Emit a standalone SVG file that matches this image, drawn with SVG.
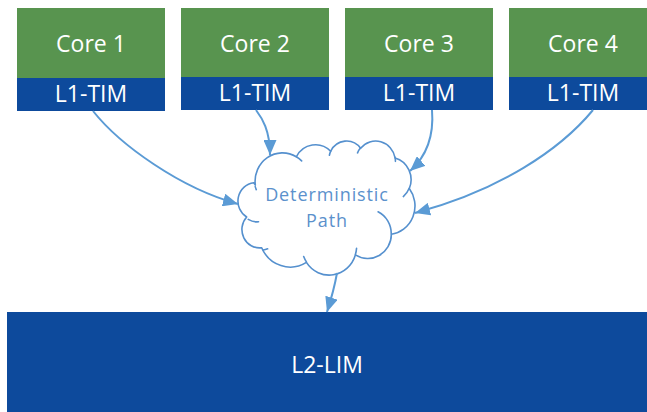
<svg xmlns="http://www.w3.org/2000/svg" width="647" height="412" viewBox="0 0 647 412">
  <style>
    .core { fill: #58944F; }
    .tim { fill: #0D4A9C; }
    .lbl { font-family: "Open Sans", "Noto Sans", sans-serif; font-size: 23px; fill: #FFFFFF; text-anchor: middle; }
    .cloud { fill: #FFFFFF; stroke: #5590CE; stroke-width: 1.6; stroke-linejoin: round; }
    .cloud-detail { fill: none; stroke: #5590CE; stroke-width: 1.6; stroke-linecap: round; }
    .cloud-text { font-family: "Open Sans", "Noto Sans", sans-serif; font-size: 18px; fill: #5B91CC; text-anchor: middle; letter-spacing: 0.9px; }
    .conn { fill: none; stroke: #5B9BD5; stroke-width: 2; marker-end: url(#arrow); }
  </style>
  <defs>
    <marker id="arrow" markerUnits="userSpaceOnUse" markerWidth="16" markerHeight="13" refX="15" refY="6.5" orient="auto">
      <path d="M0,0 L15,6.5 L0,13 z" fill="#5B9BD5"/>
    </marker>
  </defs>

  <!-- Cores with their local L1 memories -->
  <g id="core1">
    <rect class="core" x="17" y="8" width="148" height="70"/>
    <rect class="tim" x="17" y="78" width="148" height="33"/>
    <text class="lbl" x="91" y="52">Core 1</text>
    <text class="lbl" x="91" y="102">L1-TIM</text>
  </g>
  <g id="core2">
    <rect class="core" x="181" y="8" width="148" height="69"/>
    <rect class="tim" x="181" y="77" width="148" height="33"/>
    <text class="lbl" x="255" y="52">Core 2</text>
    <text class="lbl" x="255" y="101">L1-TIM</text>
  </g>
  <g id="core3">
    <rect class="core" x="345" y="8" width="148" height="69"/>
    <rect class="tim" x="345" y="77" width="148" height="33"/>
    <text class="lbl" x="419" y="52">Core 3</text>
    <text class="lbl" x="419" y="101">L1-TIM</text>
  </g>
  <g id="core4">
    <rect class="core" x="509" y="8" width="148" height="69"/>
    <rect class="tim" x="509" y="77" width="148" height="33"/>
    <text class="lbl" x="583" y="52">Core 4</text>
    <text class="lbl" x="583" y="101">L1-TIM</text>
  </g>

  <!-- Shared deterministic interconnect -->
  <g id="path-cloud">
    <path class="cloud" d="M255.33,185.17
      A27.42,28.51 0 0 1 296.36,156.74
      A21.65,22.54 0 0 1 330.68,151.25
      A17.72,18.44 0 0 1 360.64,148.31
      A19.72,20.46 0 0 1 395.09,157.91
      A21.65,22.56 0 0 1 409.30,188.57
      A27.51,28.60 0 0 1 391.38,234.29
      A23.49,24.40 0 0 1 355.45,254.80
      A27.41,28.58 0 0 1 306.42,262.40
      A31.34,32.70 0 0 1 261.68,247.75
      A17.70,18.36 0 0 1 246.69,216.97
      A17.64,18.44 0 0 1 253.80,182.71 Z"/>
    <path class="cloud-detail" d="M258.55,221.80 A17.64,18.44 0 0 1 248.27,219.33
      M267.63,248.85 A17.70,18.36 0 0 1 263.13,250.04
      M306.40,261.85 A27.41,28.58 0 0 1 303.69,256.46
      M356.54,248.39 A27.41,28.58 0 0 1 355.46,254.31
      M378.07,211.80 A23.49,24.40 0 0 1 391.27,233.94
      M409.21,188.23 A21.65,22.56 0 0 1 403.33,196.53
      M395.10,157.43 A19.72,20.46 0 0 1 395.41,161.35
      M357.56,152.86 A19.72,20.46 0 0 1 360.57,147.86
      M329.40,155.24 A17.72,18.44 0 0 1 330.85,150.93
      M296.34,156.71 A27.42,28.51 0 0 1 301.63,160.90
      M256.26,189.58 A27.42,28.51 0 0 1 255.23,186.63"/>
    <text class="cloud-text" x="327" y="201">Deterministic</text>
    <text class="cloud-text" x="327" y="227">Path</text>
  </g>

  <!-- Shared L2 memory -->
  <g id="l2">
    <rect class="tim" x="7" y="312" width="640" height="100"/>
    <text class="lbl" x="327" y="373">L2-LIM</text>
  </g>

  <!-- Connectors -->
  <g id="connectors">
    <path class="conn" d="M93,111 C120,145 180,188 238,204"/>
    <path class="conn" d="M256,110 C262,118 270,130 270,155"/>
    <path class="conn" d="M432,110 C434,135 428,155 410,171"/>
    <path class="conn" d="M593,110 C560,150 500,190 415,213"/>
    <path class="conn" d="M337,273 Q334,290 327,312"/>
  </g>
</svg>
